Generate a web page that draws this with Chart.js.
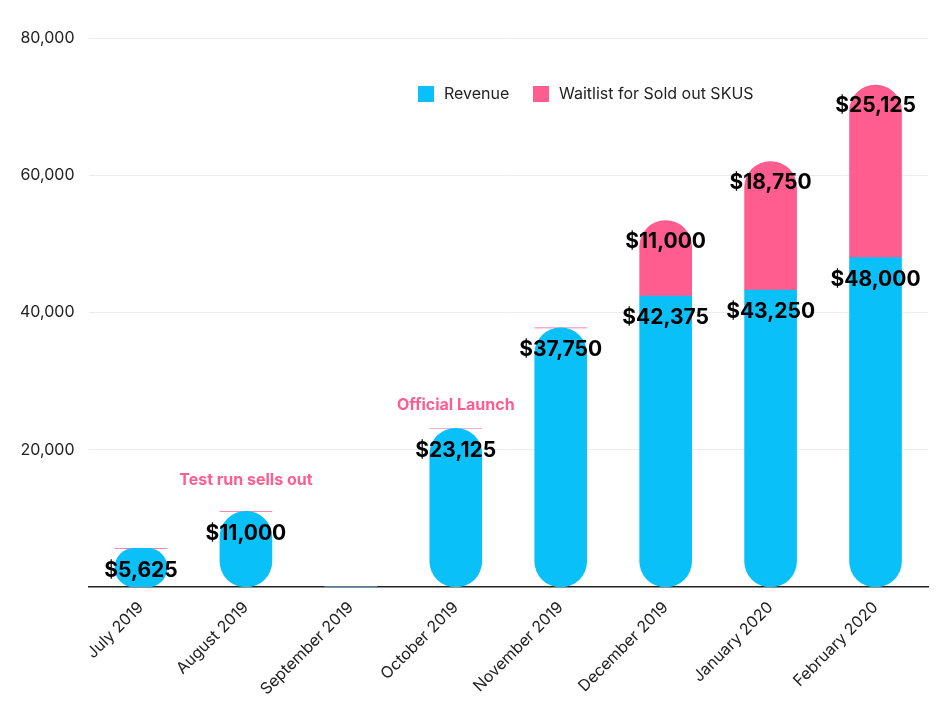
<!DOCTYPE html>
<html><head><meta charset="utf-8">
<script src="https://cdn.jsdelivr.net/npm/chart.js@4"></script>
<style>html,body{margin:0;background:#fff}#w{width:942px;height:702px}</style>
</head><body><div id="w"><canvas id="c"></canvas></div>
<script>
const categories=["July 2019","August 2019","September 2019","October 2019","November 2019","December 2019","January 2020","February 2020"];
const revenue=[5625,11000,0,23125,37750,42375,43250,48000];
const waitlist=[0,0,0,0,0,11000,18750,25125];
const yTicks=[20000,40000,60000,80000];
const annotations=[{text:"Test run sells out",cat:1,y:15500},{text:"Official Launch",cat:3,y:26500}];
const BLUE="#0ac0f8",PINK="#ff5c8f",FONT="Inter, 'Noto Sans', sans-serif";
const fmt=v=>"$"+v.toLocaleString("en-US");
const R=26;
const labelsPlugin={id:"lbl",afterDatasetsDraw(ch){
  const ctx=ch.ctx;ctx.save();
  ctx.font="bold 21px "+FONT;ctx.fillStyle="#000";ctx.textAlign="center";ctx.textBaseline="middle";
  const y=ch.scales.y,x=ch.scales.x;
  revenue.forEach((v,i)=>{if(!v)return;ctx.fillText(fmt(v),x.getPixelForValue(i),y.getPixelForValue(v)+22);});
  waitlist.forEach((v,i)=>{if(!v)return;ctx.fillText(fmt(v),x.getPixelForValue(i),y.getPixelForValue(v+revenue[i])+21);});
  ctx.font="bold 16px "+FONT;ctx.fillStyle=PINK;
  annotations.forEach(a=>ctx.fillText(a.text,x.getPixelForValue(a.cat)+a.dx||x.getPixelForValue(a.cat),y.getPixelForValue(a.y)));
  // legend
  ctx.font="16px "+FONT;ctx.fillStyle="#222";ctx.textAlign="left";
  const ly=94;
  ctx.fillStyle=BLUE;ctx.fillRect(418,ly-8,16,16);
  ctx.fillStyle="#222";ctx.fillText(ch.data.datasets[0].label,444,ly);
  ctx.fillStyle=PINK;ctx.fillRect(533,ly-8,16,16);
  ctx.fillStyle="#222";ctx.fillText(ch.data.datasets[1].label,559,ly);
  ctx.restore();
}};
new Chart(document.getElementById("c"),{type:"bar",
 data:{labels:categories,datasets:[
  {label:"Revenue",data:revenue,backgroundColor:BLUE,borderSkipped:false,
   borderRadius:c=>waitlist[c.dataIndex]?{topLeft:0,topRight:0,bottomLeft:R,bottomRight:R}:R},
  {label:"Waitlist for Sold out SKUS",data:waitlist,backgroundColor:PINK,borderSkipped:false,
   borderRadius:{topLeft:R,topRight:R,bottomLeft:0,bottomRight:0}}]},
 options:{responsive:true,maintainAspectRatio:false,animation:false,
  layout:{padding:{top:38,right:14,left:6}},
  datasets:{bar:{barThickness:52}},
  plugins:{legend:{display:false},tooltip:{enabled:false}},
  scales:{
   x:{stacked:true,grid:{display:false},border:{color:"#222",width:1.5},
      ticks:{minRotation:45,maxRotation:45,color:"#222",font:{family:FONT,size:16}}},
   y:{stacked:true,min:0,max:80000,afterBuildTicks:s=>{s.ticks=yTicks.map(v=>({value:v}));},
      grid:{color:"#ececec",drawTicks:false},border:{display:false},
      ticks:{padding:14,color:"#222",font:{family:FONT,size:16},callback:v=>v.toLocaleString("en-US")}}}}
 ,plugins:[labelsPlugin]});
</script></body></html>
